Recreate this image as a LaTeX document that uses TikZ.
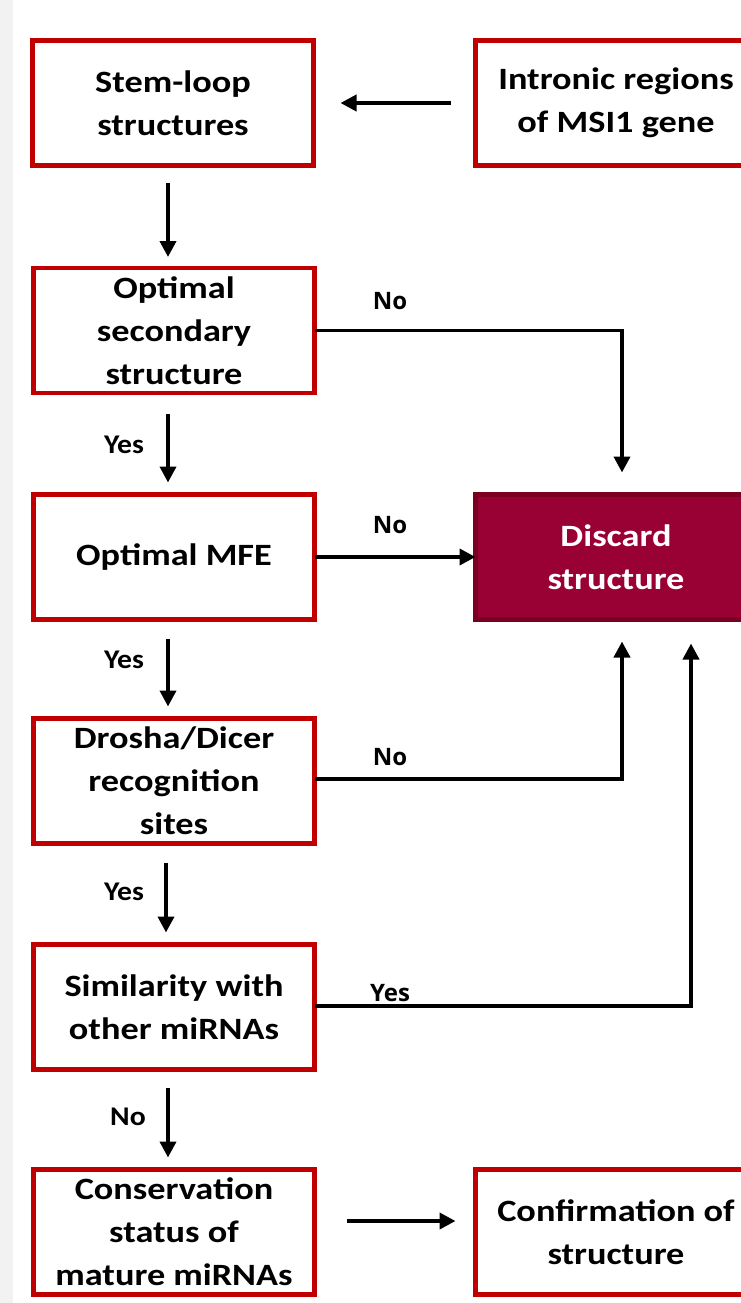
\documentclass[tikz,border=0pt]{standalone}
\usepackage{fontspec}
\setmainfont{Carlito}[FakeStretch=1.17]
\newfontfamily\lblfont{Open Sans}
\newfontfamily\ylblfont{Carlito}[FakeStretch=1.1]
\usetikzlibrary{arrows.meta}
\definecolor{boxred}{HTML}{C00000}
\definecolor{discfill}{HTML}{990033}
\definecolor{discedge}{HTML}{7A0020}
\definecolor{bgstrip}{HTML}{F2F2F2}
\tikzset{
  flowbox/.style={draw=boxred, line width=4.5pt, fill=white, minimum width=281pt, minimum height=125pt,
    inner sep=0pt, outer sep=0pt, align=center, font=\fontsize{31}{43}\selectfont\bfseries},
  discbox/.style={flowbox, draw=discedge, fill=discfill, text=white},
  arr/.style={line width=3.8pt, -{Triangle[width=16pt,length=16pt]}},
  lbl/.style={font=\lblfont\fontsize{24}{28}\selectfont\bfseries, inner sep=0pt},
  lbly/.style={font=\ylblfont\fontsize{27}{30}\selectfont\bfseries, inner sep=0pt}
}
\begin{document}
\begin{tikzpicture}[x=1pt,y=-1pt]
\useasboundingbox (0,0) rectangle (741,1303);
\clip (0,0) rectangle (741,1303);
\fill[white] (0,0) rectangle (741,1303);
\fill[bgstrip] (0,0) rectangle (13,1303);

\node[flowbox] (stem) at (173,103) {Stem-loop\\structures};
\node[flowbox] (intr) at (616,103) {Intronic regions\\of MSI1 gene};
\node[flowbox] (opt2) at (174,330.5) {Optimal\\secondary\\structure};
\node[flowbox] (mfe) at (174,557) {Optimal MFE};
\node[discbox] (disc) at (616,557) {Discard\\structure};
\node[flowbox] (drosha) at (174,781) {Drosha/Dicer\\recognition\\sites};
\node[flowbox] (sim) at (174,1007) {Similarity with\\other miRNAs};
\node[flowbox] (cons) at (174,1232) {Conservation\\status of\\mature miRNAs};
\node[flowbox] (conf) at (616,1232) {Confirmation of\\structure};

% main flow
\draw[arr, shorten <=25pt, shorten >=27pt] (intr.west) -- (stem.east |- intr.west);
\draw[arr, shorten <=17pt, shorten >=11pt] ([xshift=-5pt]stem.south) -- ([xshift=-6pt]opt2.north);
\draw[arr, shorten <=21pt, shorten >=12pt] ([xshift=-6pt]opt2.south) -- ([xshift=-6pt]mfe.north);
\draw[arr, shorten <=19pt, shorten >=12pt] ([xshift=-6pt]mfe.south) -- ([xshift=-6pt]drosha.north);
\draw[arr, shorten <=19pt, shorten >=12pt] ([xshift=-8pt]drosha.south) -- ([xshift=-8pt]sim.north);
\draw[arr, shorten <=18pt, shorten >=12pt] ([xshift=-6pt]sim.south) -- ([xshift=-6pt]cons.north);
\draw[arr, shorten <=32pt, shorten >=20pt] ([yshift=11pt]cons.east) -- ([yshift=11pt]conf.west);

% branches to discard
\draw[arr, shorten >=22pt] (opt2.east) -| ([xshift=6pt]disc.north);
\draw[arr] (mfe.east) -- (disc.west);
\draw[arr, shorten >=22pt] ([yshift=2pt]drosha.east) -| ([xshift=6pt]disc.south);
\draw[arr, shorten >=24pt] ([yshift=1pt]sim.east) -| ([xshift=75pt]disc.south);

% labels
\node[lbl] (l1) at (390,301) {No};
\node[lbl] (l2) at (390,525) {No};
\node[lbl] (l3) at (390,757) {No};
\node[lbl] (l4) at (390,993) {Yes};
\node[lbly] (y1) at (124,445) {Yes};
\node[lbly] (y2) at (124,660) {Yes};
\node[lbly] (y3) at (124,892) {Yes};
\node[lbly] (y4) at (128,1117) {No};
\end{tikzpicture}
\end{document}
